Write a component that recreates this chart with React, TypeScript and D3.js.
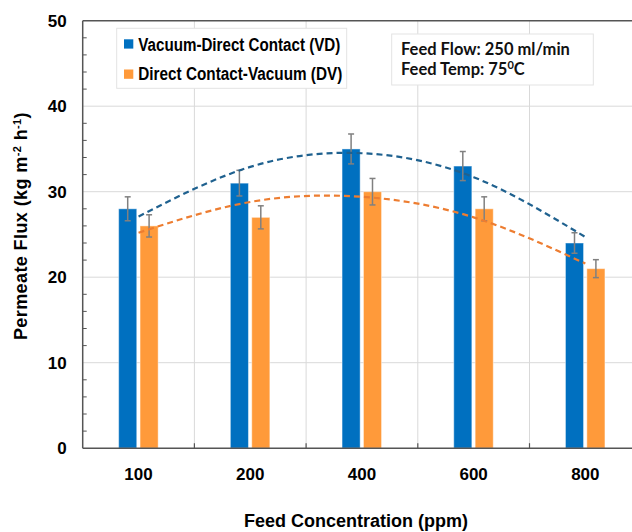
// App.tsx
import React, { useEffect, useRef } from 'react';
import * as d3 from 'd3';

// chart values
const categories = ['100', '200', '400', '600', '800'];
const vdValues = [28, 31, 35, 33, 24];
const dvValues = [26, 27, 30, 28, 21];
const vdErrors = [1.4, 1.5, 1.75, 1.7, 1.2];
const dvErrors = [1.3, 1.35, 1.55, 1.4, 1.05];
// dashed trend lines (values read at each category)
const vdTrend = [27.1, 32.9, 34.5, 31.7, 24.7];
const dvTrend = [25.2, 28.8, 29.4, 27.0, 21.6];
const yTicks = [0, 10, 20, 30, 40, 50];
const yMinorTicks = [2, 4, 6, 8, 12, 14, 16, 18, 22, 24, 26, 28, 32, 34, 36, 38, 42, 44, 46, 48];
const seriesNames = ['Vacuum-Direct Contact (VD)', 'Direct Contact-Vacuum (DV)'];

function App() {
    const svgRef = useRef<SVGSVGElement>(null);

    useEffect(() => {
        const width = 632;
        const height = 532;
        const left = 82.7;
        const top = 20.7;
        const bottom = 448.2;
        const font = '"Liberation Sans", Arial, sans-serif';

        const svg = d3.select(svgRef.current)
            .attr('width', width)
            .attr('height', height);
        svg.selectAll('*').remove();

        svg.append('rect').attr('width', width).attr('height', height).attr('fill', '#fff');

        // scales
        const x = d3.scaleBand()
            .domain(categories)
            .range([left, left + 111.7 * 5]);
        const y = d3.scaleLinear()
            .domain([0, 50])
            .range([bottom, top]);
        const sub = d3.scaleBand()
            .domain(['vd', 'dv'])
            .range([-19.9, 19.6])
            .paddingInner(0.154);
        const center = (c: string) => (x(c) as number) + x.bandwidth() / 2;

        // gridlines
        svg.append('g')
            .selectAll('line')
            .data(yTicks.filter(d => d > 0 && d < 50))
            .enter()
            .append('line')
            .attr('x1', left)
            .attr('x2', width)
            .attr('y1', d => y(d))
            .attr('y2', d => y(d))
            .attr('stroke', '#d9d9d9')
            .attr('stroke-width', 1);

        svg.append('g')
            .selectAll('line')
            .data(categories.slice(1))
            .enter()
            .append('line')
            .attr('x1', d => x(d) as number)
            .attr('x2', d => x(d) as number)
            .attr('y1', top)
            .attr('y2', bottom)
            .attr('stroke', '#d9d9d9')
            .attr('stroke-width', 1);

        // bars
        const groups = svg.append('g')
            .selectAll('g')
            .data(categories)
            .enter()
            .append('g');

        const drawBars = (key: string, vals: number[], errs: number[], color: string) => {
            groups.append('rect')
                .attr('x', d => center(d) + (sub(key) as number))
                .attr('y', (d, i) => y(vals[i]))
                .attr('width', sub.bandwidth())
                .attr('height', (d, i) => bottom - y(vals[i]))
                .attr('fill', color)
                .attr('stroke', 'rgba(255,255,255,0.45)')
                .attr('stroke-width', 1);

            const ex = (d: string) => center(d) + (sub(key) as number) + sub.bandwidth() / 2;
            groups.append('line')
                .attr('x1', d => ex(d))
                .attr('x2', d => ex(d))
                .attr('y1', (d, i) => y(vals[i] + errs[i]))
                .attr('y2', (d, i) => y(vals[i] - errs[i]))
                .attr('stroke', '#808080')
                .attr('stroke-width', 1.5);
            [1, -1].forEach(s => {
                groups.append('line')
                    .attr('x1', d => ex(d) - 3)
                    .attr('x2', d => ex(d) + 3)
                    .attr('y1', (d, i) => y(vals[i] + s * errs[i]))
                    .attr('y2', (d, i) => y(vals[i] + s * errs[i]))
                    .attr('stroke', '#808080')
                    .attr('stroke-width', 1.5);
            });
        };
        drawBars('vd', vdValues, vdErrors, '#0070C0');
        drawBars('dv', dvValues, dvErrors, '#FF9A3A');

        // trend lines
        const line = d3.line<number>()
            .x((d, i) => center(categories[i]))
            .y(d => y(d))
            .curve(d3.curveNatural);

        svg.append('path')
            .attr('d', line(vdTrend))
            .attr('fill', 'none')
            .attr('stroke', '#1F618F')
            .attr('stroke-width', 2.2)
            .attr('stroke-dasharray', '6,4');
        svg.append('path')
            .attr('d', line(dvTrend))
            .attr('fill', 'none')
            .attr('stroke', '#ED7D31')
            .attr('stroke-width', 2.2)
            .attr('stroke-dasharray', '6,4');

        // axes frame
        const axisColor = '#555';
        svg.append('line').attr('x1', left).attr('x2', width).attr('y1', top).attr('y2', top)
            .attr('stroke', axisColor).attr('stroke-width', 1.5);
        svg.append('line').attr('x1', left).attr('x2', width).attr('y1', bottom).attr('y2', bottom)
            .attr('stroke', axisColor).attr('stroke-width', 1.5);
        svg.append('line').attr('x1', left).attr('x2', left).attr('y1', top).attr('y2', bottom)
            .attr('stroke', axisColor).attr('stroke-width', 1.5);

        // minor y ticks (inside)
        svg.append('g')
            .selectAll('line')
            .data(yMinorTicks)
            .enter()
            .append('line')
            .attr('x1', left)
            .attr('x2', left + 4)
            .attr('y1', d => y(d))
            .attr('y2', d => y(d))
            .attr('stroke', axisColor)
            .attr('stroke-width', 1);

        // x ticks at band edges (inside)
        svg.append('g')
            .selectAll('line')
            .data(categories.slice(1))
            .enter()
            .append('line')
            .attr('x1', d => x(d) as number)
            .attr('x2', d => x(d) as number)
            .attr('y1', bottom)
            .attr('y2', bottom - 5)
            .attr('stroke', axisColor)
            .attr('stroke-width', 1.2);

        // tick labels
        svg.append('g')
            .selectAll('text')
            .data(yTicks)
            .enter()
            .append('text')
            .attr('x', 66.7)
            .attr('y', d => y(d) + 6)
            .attr('text-anchor', 'end')
            .style('font-family', font)
            .style('font-weight', 'bold')
            .style('font-size', '17px')
            .attr('fill', '#000')
            .text(d => d);

        svg.append('g')
            .selectAll('text')
            .data(categories)
            .enter()
            .append('text')
            .attr('x', d => center(d))
            .attr('y', 480)
            .attr('text-anchor', 'middle')
            .style('font-family', font)
            .style('font-weight', 'bold')
            .style('font-size', '17px')
            .attr('fill', '#000')
            .text(d => d);

        // axis titles
        svg.append('text')
            .attr('x', 356)
            .attr('y', 527)
            .attr('text-anchor', 'middle')
            .style('font-family', font)
            .style('font-weight', 'bold')
            .style('font-size', '18px')
            .attr('fill', '#000')
            .text('Feed Concentration (ppm)');

        const yl = svg.append('text')
            .attr('transform', 'translate(27,226) rotate(-90)')
            .attr('text-anchor', 'middle')
            .style('font-family', font)
            .style('font-weight', 'bold')
            .style('font-size', '18px')
            .style('letter-spacing', '0.4px')
            .attr('fill', '#000');
        yl.append('tspan').text('Permeate Flux (kg m');
        yl.append('tspan').attr('dy', -6).style('font-size', '11px').text('-2');
        yl.append('tspan').attr('dy', 6).text(' h');
        yl.append('tspan').attr('dy', -6).style('font-size', '11px').text('-1');
        yl.append('tspan').attr('dy', 6).text(')');

        // legend
        svg.append('rect')
            .attr('x', 116.7).attr('y', 28.3)
            .attr('width', 230).attr('height', 60)
            .attr('fill', '#fff')
            .attr('stroke', '#e3e3e3');
        const legendColors = ['#0070C0', '#FF9A3A'];
        const legendY = [39.3, 69.5];
        const legendBase = [50.7, 80];
        seriesNames.forEach((name, i) => {
            svg.append('rect')
                .attr('x', 124).attr('y', legendY[i])
                .attr('width', 9.3).attr('height', 9.3)
                .attr('fill', legendColors[i]);
            svg.append('text')
                .attr('x', 138.3)
                .attr('y', legendBase[i])
                .attr('textLength', i === 0 ? 202 : 204)
                .attr('lengthAdjust', 'spacingAndGlyphs')
                .style('font-family', font)
                .style('font-weight', 'bold')
                .style('font-size', '18px')
                .attr('fill', '#000')
                .text(name);
        });

        // conditions box
        svg.append('rect')
            .attr('x', 391.7).attr('y', 34)
            .attr('width', 201.6).attr('height', 51)
            .attr('fill', '#fff')
            .attr('stroke', '#e3e3e3');
        svg.append('text')
            .attr('x', 401).attr('y', 55)
            .style('font-family', 'Lato, sans-serif')
            .style('font-weight', 'bold')
            .style('font-size', '16.5px')
            .attr('fill', '#111')
            .text('Feed Flow: 250 ml/min');
        const t2 = svg.append('text')
            .attr('x', 401).attr('y', 75)
            .style('font-family', 'Lato, sans-serif')
            .style('font-weight', 'bold')
            .style('font-size', '16.5px')
            .attr('fill', '#111');
        t2.append('tspan').text('Feed Temp: 75');
        t2.append('tspan').attr('dy', -6).style('font-size', '11px').text('0');
        t2.append('tspan').attr('dy', 6).text('C');
    }, []);

    return <svg ref={svgRef} style={{ position: 'absolute', left: 0, top: 0 }}></svg>;
}

export default App;
